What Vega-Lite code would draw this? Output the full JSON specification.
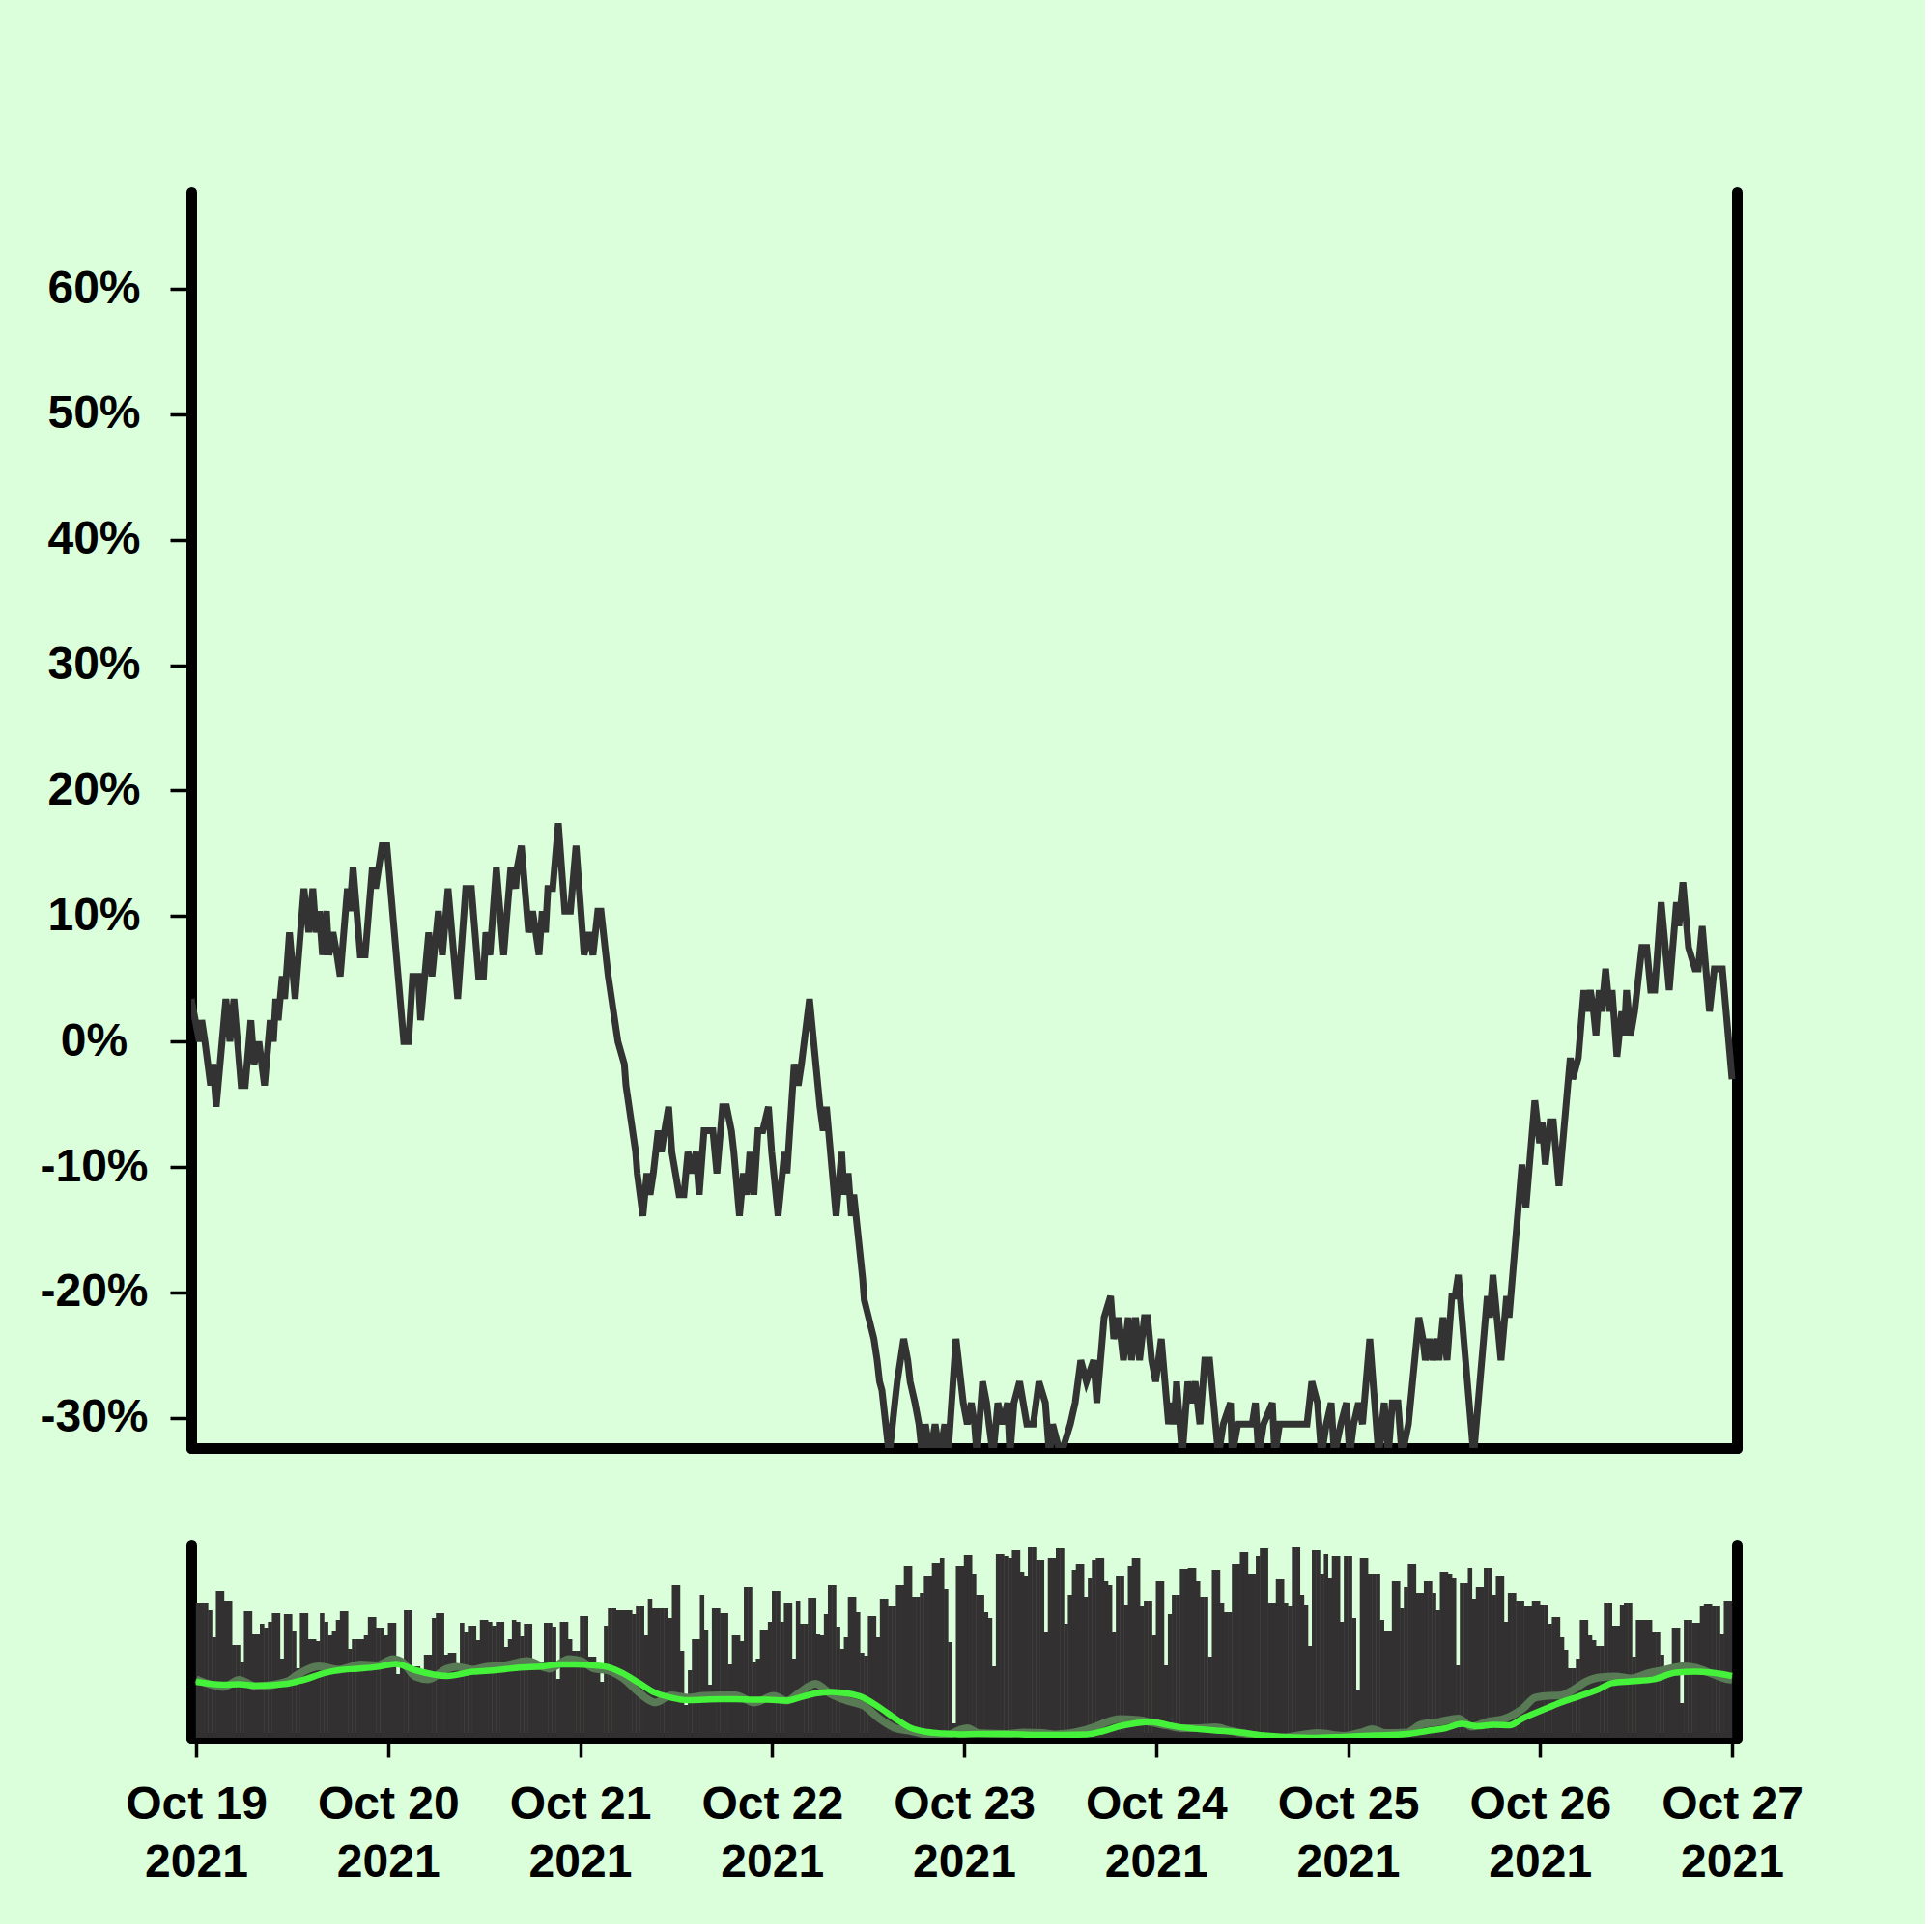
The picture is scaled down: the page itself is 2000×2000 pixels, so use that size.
{
"$schema":"https://vega.github.io/schema/vega-lite/v6.json",
"autosize":{"type":"pad"},
"padding":{"left":40,"top":199,"right":126,"bottom":40},
"background":"#dbffdb",
"spacing":100,
"bounds":"flush",
"config":{"view":{"stroke":null},"font":"Liberation Sans","axis":{"domainColor":"#000000","domainWidth":11,"domainCap":"round","tickColor":"#000000","tickWidth":3.5,"labelFont":"Liberation Sans","labelFontSize":48,"labelFontWeight":"bold","labelColor":"#000000","grid":false}},
"datasets":{
"price":[
{"t":"2021-10-19T00:00","v":3.4},{"t":"2021-10-19T01:00","v":0},{"t":"2021-10-19T01:18","v":1.7},{"t":"2021-10-19T01:42","v":0},{"t":"2021-10-19T02:24","v":-3.5},{"t":"2021-10-19T02:42","v":-1.8},{"t":"2021-10-19T03:06","v":-5.2},{"t":"2021-10-19T04:18","v":3.4},{"t":"2021-10-19T04:48","v":0},{"t":"2021-10-19T05:18","v":3.4},{"t":"2021-10-19T06:12","v":-3.5},{"t":"2021-10-19T06:42","v":-3.5},{"t":"2021-10-19T07:24","v":1.7},{"t":"2021-10-19T07:48","v":-1.8},{"t":"2021-10-19T08:24","v":0},{"t":"2021-10-19T09:06","v":-3.5},{"t":"2021-10-19T09:48","v":1.7},{"t":"2021-10-19T10:12","v":0},{"t":"2021-10-19T10:30","v":3.4},{"t":"2021-10-19T10:48","v":1.7},{"t":"2021-10-19T11:18","v":5.2},{"t":"2021-10-19T11:36","v":3.4},{"t":"2021-10-19T12:12","v":8.7},{"t":"2021-10-19T12:54","v":3.4},{"t":"2021-10-19T14:00","v":12.2},{"t":"2021-10-19T14:36","v":8.7},{"t":"2021-10-19T15:06","v":12.2},{"t":"2021-10-19T15:30","v":8.7},{"t":"2021-10-19T15:54","v":10.4},{"t":"2021-10-19T16:18","v":6.9},{"t":"2021-10-19T16:48","v":10.4},{"t":"2021-10-19T17:06","v":6.9},{"t":"2021-10-19T17:36","v":8.7},{"t":"2021-10-19T18:06","v":6.9},{"t":"2021-10-19T18:30","v":5.2},{"t":"2021-10-19T19:24","v":12.2},{"t":"2021-10-19T19:42","v":10.4},{"t":"2021-10-19T20:06","v":13.9},{"t":"2021-10-19T21:00","v":6.9},{"t":"2021-10-19T21:36","v":6.9},{"t":"2021-10-19T22:30","v":13.9},{"t":"2021-10-19T22:54","v":12.2},{"t":"2021-10-19T23:42","v":15.6},
{"t":"2021-10-20T00:18","v":15.6},{"t":"2021-10-20T02:24","v":0},{"t":"2021-10-20T03:00","v":0},{"t":"2021-10-20T03:30","v":5.2},{"t":"2021-10-20T04:12","v":5.2},{"t":"2021-10-20T04:30","v":1.7},{"t":"2021-10-20T05:30","v":8.7},{"t":"2021-10-20T05:54","v":5.2},{"t":"2021-10-20T06:42","v":10.4},{"t":"2021-10-20T07:12","v":6.9},{"t":"2021-10-20T07:54","v":12.2},{"t":"2021-10-20T09:06","v":3.4},{"t":"2021-10-20T10:06","v":12.2},{"t":"2021-10-20T10:48","v":12.2},{"t":"2021-10-20T11:42","v":5.2},{"t":"2021-10-20T12:18","v":5.2},{"t":"2021-10-20T12:36","v":8.7},{"t":"2021-10-20T13:06","v":6.9},{"t":"2021-10-20T13:54","v":13.9},{"t":"2021-10-20T14:48","v":6.9},{"t":"2021-10-20T15:42","v":13.9},{"t":"2021-10-20T16:18","v":12.2},{"t":"2021-10-20T16:30","v":13.9},{"t":"2021-10-20T17:00","v":15.6},{"t":"2021-10-20T17:54","v":8.7},{"t":"2021-10-20T18:24","v":10.4},{"t":"2021-10-20T18:48","v":8.7},{"t":"2021-10-20T19:12","v":6.9},{"t":"2021-10-20T19:36","v":10.4},{"t":"2021-10-20T20:00","v":8.7},{"t":"2021-10-20T20:18","v":12.2},{"t":"2021-10-20T20:54","v":12.2},{"t":"2021-10-20T21:36","v":17.4},{"t":"2021-10-20T22:24","v":10.4},{"t":"2021-10-20T23:06","v":10.4},{"t":"2021-10-20T23:48","v":15.6},
{"t":"2021-10-21T00:48","v":6.9},{"t":"2021-10-21T01:24","v":8.7},{"t":"2021-10-21T01:54","v":6.9},{"t":"2021-10-21T02:30","v":10.4},{"t":"2021-10-21T02:54","v":10.4},{"t":"2021-10-21T03:30","v":6.9},{"t":"2021-10-21T03:48","v":5.2},{"t":"2021-10-21T05:00","v":0},{"t":"2021-10-21T05:48","v":-1.8},{"t":"2021-10-21T06:00","v":-3.5},{"t":"2021-10-21T07:12","v":-8.8},{"t":"2021-10-21T07:24","v":-10.5},{"t":"2021-10-21T08:06","v":-13.9},{"t":"2021-10-21T08:36","v":-10.5},{"t":"2021-10-21T09:00","v":-12.2},{"t":"2021-10-21T09:24","v":-10.5},{"t":"2021-10-21T10:00","v":-7.1},{"t":"2021-10-21T10:24","v":-8.8},{"t":"2021-10-21T10:48","v":-7.1},{"t":"2021-10-21T11:18","v":-5.2},{"t":"2021-10-21T11:42","v":-8.8},{"t":"2021-10-21T12:36","v":-12.2},{"t":"2021-10-21T13:12","v":-12.2},{"t":"2021-10-21T13:42","v":-8.8},{"t":"2021-10-21T14:12","v":-10.5},{"t":"2021-10-21T14:42","v":-8.8},{"t":"2021-10-21T15:06","v":-12.2},{"t":"2021-10-21T15:42","v":-7.1},{"t":"2021-10-21T16:48","v":-7.1},{"t":"2021-10-21T17:18","v":-10.5},{"t":"2021-10-21T18:00","v":-5.2},{"t":"2021-10-21T18:30","v":-5.2},{"t":"2021-10-21T19:06","v":-7.1},{"t":"2021-10-21T19:24","v":-8.8},{"t":"2021-10-21T20:06","v":-13.9},{"t":"2021-10-21T20:36","v":-10.5},{"t":"2021-10-21T21:00","v":-12.2},{"t":"2021-10-21T21:24","v":-8.8},{"t":"2021-10-21T21:54","v":-12.2},{"t":"2021-10-21T22:24","v":-7.1},{"t":"2021-10-21T23:00","v":-7.1},{"t":"2021-10-21T23:42","v":-5.2},
{"t":"2021-10-22T00:06","v":-8.8},{"t":"2021-10-22T00:54","v":-13.9},{"t":"2021-10-22T01:42","v":-8.8},{"t":"2021-10-22T02:00","v":-10.5},{"t":"2021-10-22T02:54","v":-1.8},{"t":"2021-10-22T03:24","v":-3.5},{"t":"2021-10-22T03:48","v":-1.8},{"t":"2021-10-22T04:48","v":3.4},{"t":"2021-10-22T06:06","v":-5.2},{"t":"2021-10-22T06:30","v":-7.1},{"t":"2021-10-22T06:54","v":-5.2},{"t":"2021-10-22T08:06","v":-13.9},{"t":"2021-10-22T08:48","v":-8.8},{"t":"2021-10-22T09:06","v":-12.2},{"t":"2021-10-22T09:36","v":-10.5},{"t":"2021-10-22T10:00","v":-13.9},{"t":"2021-10-22T10:18","v":-12.2},{"t":"2021-10-22T11:24","v":-18.9},{"t":"2021-10-22T11:36","v":-20.6},{"t":"2021-10-22T12:48","v":-23.7},{"t":"2021-10-22T13:12","v":-25.4},{"t":"2021-10-22T13:30","v":-27.1},{"t":"2021-10-22T13:48","v":-27.8},{"t":"2021-10-22T14:42","v":-33},{"t":"2021-10-22T15:24","v":-28.8},{"t":"2021-10-22T15:42","v":-27.1},{"t":"2021-10-22T16:30","v":-23.7},{"t":"2021-10-22T17:00","v":-25.4},{"t":"2021-10-22T17:18","v":-27.1},{"t":"2021-10-22T17:54","v":-28.8},{"t":"2021-10-22T18:24","v":-30.5},{"t":"2021-10-22T18:48","v":-33},{"t":"2021-10-22T19:12","v":-30.5},{"t":"2021-10-22T19:48","v":-33},{"t":"2021-10-22T20:24","v":-30.5},{"t":"2021-10-22T21:00","v":-33},{"t":"2021-10-22T21:36","v":-30.5},{"t":"2021-10-22T22:00","v":-33},{"t":"2021-10-22T23:00","v":-23.7},{"t":"2021-10-22T23:54","v":-28.8},
{"t":"2021-10-23T00:24","v":-30.5},{"t":"2021-10-23T00:54","v":-28.8},{"t":"2021-10-23T01:18","v":-30.5},{"t":"2021-10-23T01:36","v":-33},{"t":"2021-10-23T02:18","v":-27.1},{"t":"2021-10-23T02:48","v":-28.8},{"t":"2021-10-23T03:06","v":-30.5},{"t":"2021-10-23T03:36","v":-33},{"t":"2021-10-23T04:12","v":-28.8},{"t":"2021-10-23T04:48","v":-30.5},{"t":"2021-10-23T05:24","v":-28.8},{"t":"2021-10-23T05:42","v":-33},{"t":"2021-10-23T06:12","v":-28.8},{"t":"2021-10-23T06:54","v":-27.1},{"t":"2021-10-23T07:48","v":-30.5},{"t":"2021-10-23T08:36","v":-30.5},{"t":"2021-10-23T09:18","v":-27.1},{"t":"2021-10-23T10:06","v":-28.8},{"t":"2021-10-23T10:36","v":-33},{"t":"2021-10-23T11:00","v":-30.5},{"t":"2021-10-23T12:00","v":-33},{"t":"2021-10-23T13:12","v":-30.5},{"t":"2021-10-23T13:48","v":-28.8},{"t":"2021-10-23T14:30","v":-25.4},{"t":"2021-10-23T15:12","v":-27.1},{"t":"2021-10-23T16:06","v":-25.4},{"t":"2021-10-23T16:30","v":-28.8},{"t":"2021-10-23T17:24","v":-22.0},{"t":"2021-10-23T18:12","v":-20.3},{"t":"2021-10-23T18:36","v":-23.7},{"t":"2021-10-23T19:12","v":-22.0},{"t":"2021-10-23T19:48","v":-25.4},{"t":"2021-10-23T20:24","v":-22.0},{"t":"2021-10-23T20:48","v":-25.4},{"t":"2021-10-23T21:18","v":-22.0},{"t":"2021-10-23T21:48","v":-25.4},{"t":"2021-10-23T22:24","v":-22.0},{"t":"2021-10-23T22:48","v":-22.0},{"t":"2021-10-23T23:18","v":-25.4},{"t":"2021-10-23T23:48","v":-27.1},
{"t":"2021-10-24T00:30","v":-23.7},{"t":"2021-10-24T01:24","v":-30.5},{"t":"2021-10-24T01:48","v":-28.8},{"t":"2021-10-24T02:06","v":-30.5},{"t":"2021-10-24T02:24","v":-27.1},{"t":"2021-10-24T03:06","v":-33},{"t":"2021-10-24T03:48","v":-27.1},{"t":"2021-10-24T04:12","v":-28.8},{"t":"2021-10-24T04:42","v":-27.1},{"t":"2021-10-24T05:18","v":-30.5},{"t":"2021-10-24T05:54","v":-25.4},{"t":"2021-10-24T06:30","v":-25.4},{"t":"2021-10-24T07:00","v":-28.8},{"t":"2021-10-24T07:36","v":-33},{"t":"2021-10-24T08:12","v":-30.5},{"t":"2021-10-24T09:06","v":-28.8},{"t":"2021-10-24T09:18","v":-33},{"t":"2021-10-24T10:00","v":-30.5},{"t":"2021-10-24T11:48","v":-30.5},{"t":"2021-10-24T12:12","v":-28.8},{"t":"2021-10-24T12:36","v":-33},{"t":"2021-10-24T13:12","v":-30.5},{"t":"2021-10-24T14:18","v":-28.8},{"t":"2021-10-24T14:36","v":-33},{"t":"2021-10-24T15:12","v":-30.5},{"t":"2021-10-24T18:36","v":-30.5},{"t":"2021-10-24T19:12","v":-27.1},{"t":"2021-10-24T19:54","v":-28.8},{"t":"2021-10-24T20:24","v":-33},{"t":"2021-10-24T21:00","v":-30.5},{"t":"2021-10-24T21:36","v":-28.8},{"t":"2021-10-24T22:00","v":-33},{"t":"2021-10-24T22:48","v":-30.5},{"t":"2021-10-24T23:30","v":-28.8},{"t":"2021-10-24T23:54","v":-33},
{"t":"2021-10-25T00:24","v":-30.5},{"t":"2021-10-25T01:00","v":-28.8},{"t":"2021-10-25T01:30","v":-30.5},{"t":"2021-10-25T02:24","v":-23.7},{"t":"2021-10-25T03:30","v":-33},{"t":"2021-10-25T04:12","v":-28.8},{"t":"2021-10-25T04:42","v":-33},{"t":"2021-10-25T05:12","v":-28.8},{"t":"2021-10-25T05:54","v":-28.8},{"t":"2021-10-25T06:24","v":-33},{"t":"2021-10-25T07:12","v":-30.5},{"t":"2021-10-25T08:30","v":-22.0},{"t":"2021-10-25T09:00","v":-23.7},{"t":"2021-10-25T09:18","v":-25.4},{"t":"2021-10-25T09:48","v":-23.7},{"t":"2021-10-25T10:12","v":-25.4},{"t":"2021-10-25T10:42","v":-23.7},{"t":"2021-10-25T11:00","v":-25.4},{"t":"2021-10-25T11:30","v":-22.0},{"t":"2021-10-25T12:00","v":-25.4},{"t":"2021-10-25T12:36","v":-20.3},{"t":"2021-10-25T13:00","v":-20.3},{"t":"2021-10-25T13:24","v":-18.6},{"t":"2021-10-25T15:18","v":-33},{"t":"2021-10-25T17:00","v":-20.3},{"t":"2021-10-25T17:18","v":-22.0},{"t":"2021-10-25T17:42","v":-18.6},{"t":"2021-10-25T18:42","v":-25.4},{"t":"2021-10-25T19:24","v":-20.3},{"t":"2021-10-25T19:42","v":-22.0},{"t":"2021-10-25T21:18","v":-9.8},{"t":"2021-10-25T21:48","v":-13.2},{"t":"2021-10-25T22:54","v":-4.7},{"t":"2021-10-25T23:30","v":-8.1},{"t":"2021-10-25T23:48","v":-6.4},
{"t":"2021-10-26T00:12","v":-9.8},{"t":"2021-10-26T00:48","v":-6.4},{"t":"2021-10-26T01:12","v":-6.4},{"t":"2021-10-26T01:54","v":-11.5},{"t":"2021-10-26T03:18","v":-1.3},{"t":"2021-10-26T03:36","v":-3.0},{"t":"2021-10-26T04:18","v":-1.3},{"t":"2021-10-26T05:00","v":4.1},{"t":"2021-10-26T05:24","v":2.4},{"t":"2021-10-26T05:48","v":4.1},{"t":"2021-10-26T06:12","v":2.4},{"t":"2021-10-26T06:30","v":0.5},{"t":"2021-10-26T06:54","v":4.1},{"t":"2021-10-26T07:12","v":2.4},{"t":"2021-10-26T07:42","v":5.8},{"t":"2021-10-26T08:12","v":2.4},{"t":"2021-10-26T08:30","v":4.1},{"t":"2021-10-26T09:06","v":-1.2},{"t":"2021-10-26T09:42","v":2.4},{"t":"2021-10-26T10:00","v":0.5},{"t":"2021-10-26T10:18","v":4.1},{"t":"2021-10-26T10:48","v":0.5},{"t":"2021-10-26T11:18","v":2.4},{"t":"2021-10-26T12:12","v":7.5},{"t":"2021-10-26T12:48","v":7.5},{"t":"2021-10-26T13:18","v":4.1},{"t":"2021-10-26T13:48","v":4.1},{"t":"2021-10-26T14:36","v":11.1},{"t":"2021-10-26T15:36","v":4.1},{"t":"2021-10-26T16:30","v":11.1},{"t":"2021-10-26T16:48","v":9.2},{"t":"2021-10-26T17:18","v":12.7},{"t":"2021-10-26T18:00","v":7.5},{"t":"2021-10-26T18:48","v":5.8},{"t":"2021-10-26T19:12","v":5.8},{"t":"2021-10-26T19:42","v":9.2},{"t":"2021-10-26T20:36","v":2.4},{"t":"2021-10-26T21:12","v":5.8},{"t":"2021-10-26T22:12","v":5.8},{"t":"2021-10-26T23:24","v":-3.0}
],
"vol":[
{"t":"2021-10-19T00:15","v":0.70},{"t":"2021-10-19T00:45","v":0.70},{"t":"2021-10-19T01:15","v":0.70},{"t":"2021-10-19T01:45","v":0.66},{"t":"2021-10-19T02:15","v":0.52},{"t":"2021-10-19T02:45","v":0.76},{"t":"2021-10-19T03:15","v":0.76},{"t":"2021-10-19T03:45","v":0.71},{"t":"2021-10-19T04:15","v":0.71},{"t":"2021-10-19T04:45","v":0.48},{"t":"2021-10-19T05:15","v":0.48},{"t":"2021-10-19T05:45","v":0.39},{"t":"2021-10-19T06:15","v":0.655},{"t":"2021-10-19T06:45","v":0.655},{"t":"2021-10-19T07:15","v":0.54},{"t":"2021-10-19T07:45","v":0.54},{"t":"2021-10-19T08:15","v":0.59},{"t":"2021-10-19T08:45","v":0.57},{"t":"2021-10-19T09:15","v":0.60},{"t":"2021-10-19T09:45","v":0.645},{"t":"2021-10-19T10:15","v":0.645},{"t":"2021-10-19T10:45","v":0.41},{"t":"2021-10-19T11:15","v":0.64},{"t":"2021-10-19T11:45","v":0.64},{"t":"2021-10-19T12:15","v":0.555},{"t":"2021-10-19T12:45","v":0.36},{"t":"2021-10-19T13:15","v":0.645},{"t":"2021-10-19T13:45","v":0.645},{"t":"2021-10-19T14:15","v":0.51},{"t":"2021-10-19T14:45","v":0.51},{"t":"2021-10-19T15:15","v":0.50},{"t":"2021-10-19T15:45","v":0.645},{"t":"2021-10-19T16:15","v":0.60},{"t":"2021-10-19T16:45","v":0.53},{"t":"2021-10-19T17:15","v":0.555},{"t":"2021-10-19T17:45","v":0.61},{"t":"2021-10-19T18:15","v":0.655},{"t":"2021-10-19T18:45","v":0.655},{"t":"2021-10-19T19:15","v":0.46},{"t":"2021-10-19T19:45","v":0.51},{"t":"2021-10-19T20:15","v":0.51},{"t":"2021-10-19T20:45","v":0.51},{"t":"2021-10-19T21:15","v":0.53},{"t":"2021-10-19T21:45","v":0.625},{"t":"2021-10-19T22:15","v":0.625},{"t":"2021-10-19T22:45","v":0.57},{"t":"2021-10-19T23:15","v":0.57},{"t":"2021-10-19T23:45","v":0.53},
{"t":"2021-10-20T00:15","v":0.595},{"t":"2021-10-20T00:45","v":0.595},{"t":"2021-10-20T01:15","v":0.33},{"t":"2021-10-20T01:45","v":0.41},{"t":"2021-10-20T02:15","v":0.66},{"t":"2021-10-20T02:45","v":0.66},{"t":"2021-10-20T03:15","v":0.37},{"t":"2021-10-20T03:45","v":0.37},{"t":"2021-10-20T04:15","v":0.33},{"t":"2021-10-20T04:45","v":0.43},{"t":"2021-10-20T05:15","v":0.43},{"t":"2021-10-20T05:45","v":0.62},{"t":"2021-10-20T06:15","v":0.645},{"t":"2021-10-20T06:45","v":0.645},{"t":"2021-10-20T07:15","v":0.43},{"t":"2021-10-20T07:45","v":0.44},{"t":"2021-10-20T08:15","v":0.44},{"t":"2021-10-20T08:45","v":0.38},{"t":"2021-10-20T09:15","v":0.595},{"t":"2021-10-20T09:45","v":0.55},{"t":"2021-10-20T10:15","v":0.58},{"t":"2021-10-20T10:45","v":0.58},{"t":"2021-10-20T11:15","v":0.505},{"t":"2021-10-20T11:45","v":0.61},{"t":"2021-10-20T12:15","v":0.61},{"t":"2021-10-20T12:45","v":0.60},{"t":"2021-10-20T13:15","v":0.58},{"t":"2021-10-20T13:45","v":0.60},{"t":"2021-10-20T14:15","v":0.60},{"t":"2021-10-20T14:45","v":0.47},{"t":"2021-10-20T15:15","v":0.51},{"t":"2021-10-20T15:45","v":0.61},{"t":"2021-10-20T16:15","v":0.60},{"t":"2021-10-20T16:45","v":0.525},{"t":"2021-10-20T17:15","v":0.59},{"t":"2021-10-20T17:45","v":0.59},{"t":"2021-10-20T18:15","v":0.395},{"t":"2021-10-20T18:45","v":0.395},{"t":"2021-10-20T19:15","v":0.395},{"t":"2021-10-20T19:45","v":0.595},{"t":"2021-10-20T20:15","v":0.595},{"t":"2021-10-20T20:45","v":0.575},{"t":"2021-10-20T21:15","v":0.305},{"t":"2021-10-20T21:45","v":0.60},{"t":"2021-10-20T22:15","v":0.60},{"t":"2021-10-20T22:45","v":0.51},{"t":"2021-10-20T23:15","v":0.45},{"t":"2021-10-20T23:45","v":0.45},
{"t":"2021-10-21T00:15","v":0.63},{"t":"2021-10-21T00:45","v":0.63},{"t":"2021-10-21T01:15","v":0.42},{"t":"2021-10-21T01:45","v":0.42},{"t":"2021-10-21T02:15","v":0.35},{"t":"2021-10-21T02:45","v":0.29},{"t":"2021-10-21T03:15","v":0.58},{"t":"2021-10-21T03:45","v":0.67},{"t":"2021-10-21T04:15","v":0.67},{"t":"2021-10-21T04:45","v":0.66},{"t":"2021-10-21T05:15","v":0.66},{"t":"2021-10-21T05:45","v":0.66},{"t":"2021-10-21T06:15","v":0.66},{"t":"2021-10-21T06:45","v":0.64},{"t":"2021-10-21T07:15","v":0.68},{"t":"2021-10-21T07:45","v":0.68},{"t":"2021-10-21T08:15","v":0.53},{"t":"2021-10-21T08:45","v":0.72},{"t":"2021-10-21T09:15","v":0.67},{"t":"2021-10-21T09:45","v":0.67},{"t":"2021-10-21T10:15","v":0.67},{"t":"2021-10-21T10:45","v":0.67},{"t":"2021-10-21T11:15","v":0.62},{"t":"2021-10-21T11:45","v":0.79},{"t":"2021-10-21T12:15","v":0.79},{"t":"2021-10-21T12:45","v":0.45},{"t":"2021-10-21T13:15","v":0.17},{"t":"2021-10-21T13:45","v":0.35},{"t":"2021-10-21T14:15","v":0.51},{"t":"2021-10-21T14:45","v":0.51},{"t":"2021-10-21T15:15","v":0.74},{"t":"2021-10-21T15:45","v":0.56},{"t":"2021-10-21T16:15","v":0.275},{"t":"2021-10-21T16:45","v":0.67},{"t":"2021-10-21T17:15","v":0.67},{"t":"2021-10-21T17:45","v":0.645},{"t":"2021-10-21T18:15","v":0.645},{"t":"2021-10-21T18:45","v":0.38},{"t":"2021-10-21T19:15","v":0.53},{"t":"2021-10-21T19:45","v":0.53},{"t":"2021-10-21T20:15","v":0.50},{"t":"2021-10-21T20:45","v":0.78},{"t":"2021-10-21T21:15","v":0.78},{"t":"2021-10-21T21:45","v":0.39},{"t":"2021-10-21T22:15","v":0.41},{"t":"2021-10-21T22:45","v":0.56},{"t":"2021-10-21T23:15","v":0.56},{"t":"2021-10-21T23:45","v":0.60},
{"t":"2021-10-22T00:15","v":0.76},{"t":"2021-10-22T00:45","v":0.76},{"t":"2021-10-22T01:15","v":0.60},{"t":"2021-10-22T01:45","v":0.70},{"t":"2021-10-22T02:15","v":0.70},{"t":"2021-10-22T02:45","v":0.41},{"t":"2021-10-22T03:15","v":0.71},{"t":"2021-10-22T03:45","v":0.59},{"t":"2021-10-22T04:15","v":0.59},{"t":"2021-10-22T04:45","v":0.725},{"t":"2021-10-22T05:15","v":0.725},{"t":"2021-10-22T05:45","v":0.54},{"t":"2021-10-22T06:15","v":0.53},{"t":"2021-10-22T06:45","v":0.64},{"t":"2021-10-22T07:15","v":0.79},{"t":"2021-10-22T07:45","v":0.79},{"t":"2021-10-22T08:15","v":0.575},{"t":"2021-10-22T08:45","v":0.46},{"t":"2021-10-22T09:15","v":0.52},{"t":"2021-10-22T09:45","v":0.73},{"t":"2021-10-22T10:15","v":0.73},{"t":"2021-10-22T10:45","v":0.65},{"t":"2021-10-22T11:15","v":0.44},{"t":"2021-10-22T11:45","v":0.425},{"t":"2021-10-22T12:15","v":0.63},{"t":"2021-10-22T12:45","v":0.63},{"t":"2021-10-22T13:15","v":0.52},{"t":"2021-10-22T13:45","v":0.72},{"t":"2021-10-22T14:15","v":0.72},{"t":"2021-10-22T14:45","v":0.68},{"t":"2021-10-22T15:15","v":0.68},{"t":"2021-10-22T15:45","v":0.79},{"t":"2021-10-22T16:15","v":0.79},{"t":"2021-10-22T16:45","v":0.89},{"t":"2021-10-22T17:15","v":0.89},{"t":"2021-10-22T17:45","v":0.73},{"t":"2021-10-22T18:15","v":0.73},{"t":"2021-10-22T18:45","v":0.75},{"t":"2021-10-22T19:15","v":0.84},{"t":"2021-10-22T19:45","v":0.84},{"t":"2021-10-22T20:15","v":0.905},{"t":"2021-10-22T20:45","v":0.905},{"t":"2021-10-22T21:15","v":0.93},{"t":"2021-10-22T21:45","v":0.77},{"t":"2021-10-22T22:15","v":0.495},{"t":"2021-10-22T22:45","v":0.075},{"t":"2021-10-22T23:15","v":0.89},{"t":"2021-10-22T23:45","v":0.89},
{"t":"2021-10-23T00:15","v":0.945},{"t":"2021-10-23T00:45","v":0.945},{"t":"2021-10-23T01:15","v":0.85},{"t":"2021-10-23T01:45","v":0.74},{"t":"2021-10-23T02:15","v":0.74},{"t":"2021-10-23T02:45","v":0.65},{"t":"2021-10-23T03:15","v":0.62},{"t":"2021-10-23T03:45","v":0.37},{"t":"2021-10-23T04:15","v":0.95},{"t":"2021-10-23T04:45","v":0.95},{"t":"2021-10-23T05:15","v":0.94},{"t":"2021-10-23T05:45","v":0.93},{"t":"2021-10-23T06:15","v":0.97},{"t":"2021-10-23T06:45","v":0.97},{"t":"2021-10-23T07:15","v":0.86},{"t":"2021-10-23T07:45","v":0.84},{"t":"2021-10-23T08:15","v":0.99},{"t":"2021-10-23T08:45","v":0.99},{"t":"2021-10-23T09:15","v":0.92},{"t":"2021-10-23T09:45","v":0.92},{"t":"2021-10-23T10:15","v":0.55},{"t":"2021-10-23T10:45","v":0.93},{"t":"2021-10-23T11:15","v":0.93},{"t":"2021-10-23T11:45","v":0.98},{"t":"2021-10-23T12:15","v":0.98},{"t":"2021-10-23T12:45","v":0.59},{"t":"2021-10-23T13:15","v":0.74},{"t":"2021-10-23T13:45","v":0.87},{"t":"2021-10-23T14:15","v":0.90},{"t":"2021-10-23T14:45","v":0.90},{"t":"2021-10-23T15:15","v":0.73},{"t":"2021-10-23T15:45","v":0.825},{"t":"2021-10-23T16:15","v":0.92},{"t":"2021-10-23T16:45","v":0.93},{"t":"2021-10-23T17:15","v":0.93},{"t":"2021-10-23T17:45","v":0.81},{"t":"2021-10-23T18:15","v":0.79},{"t":"2021-10-23T18:45","v":0.55},{"t":"2021-10-23T19:15","v":0.84},{"t":"2021-10-23T19:45","v":0.84},{"t":"2021-10-23T20:15","v":0.69},{"t":"2021-10-23T20:45","v":0.89},{"t":"2021-10-23T21:15","v":0.93},{"t":"2021-10-23T21:45","v":0.93},{"t":"2021-10-23T22:15","v":0.68},{"t":"2021-10-23T22:45","v":0.71},{"t":"2021-10-23T23:15","v":0.71},{"t":"2021-10-23T23:45","v":0.53},
{"t":"2021-10-24T00:15","v":0.81},{"t":"2021-10-24T00:45","v":0.81},{"t":"2021-10-24T01:15","v":0.375},{"t":"2021-10-24T01:45","v":0.64},{"t":"2021-10-24T02:15","v":0.74},{"t":"2021-10-24T02:45","v":0.74},{"t":"2021-10-24T03:15","v":0.875},{"t":"2021-10-24T03:45","v":0.875},{"t":"2021-10-24T04:15","v":0.88},{"t":"2021-10-24T04:45","v":0.88},{"t":"2021-10-24T05:15","v":0.81},{"t":"2021-10-24T05:45","v":0.73},{"t":"2021-10-24T06:15","v":0.73},{"t":"2021-10-24T06:45","v":0.42},{"t":"2021-10-24T07:15","v":0.87},{"t":"2021-10-24T07:45","v":0.87},{"t":"2021-10-24T08:15","v":0.70},{"t":"2021-10-24T08:45","v":0.65},{"t":"2021-10-24T09:15","v":0.65},{"t":"2021-10-24T09:45","v":0.90},{"t":"2021-10-24T10:15","v":0.90},{"t":"2021-10-24T10:45","v":0.96},{"t":"2021-10-24T11:15","v":0.96},{"t":"2021-10-24T11:45","v":0.85},{"t":"2021-10-24T12:15","v":0.85},{"t":"2021-10-24T12:45","v":0.94},{"t":"2021-10-24T13:15","v":0.98},{"t":"2021-10-24T13:45","v":0.98},{"t":"2021-10-24T14:15","v":0.70},{"t":"2021-10-24T14:45","v":0.70},{"t":"2021-10-24T15:15","v":0.82},{"t":"2021-10-24T15:45","v":0.82},{"t":"2021-10-24T16:15","v":0.70},{"t":"2021-10-24T16:45","v":0.68},{"t":"2021-10-24T17:15","v":0.99},{"t":"2021-10-24T17:45","v":0.99},{"t":"2021-10-24T18:15","v":0.74},{"t":"2021-10-24T18:45","v":0.69},{"t":"2021-10-24T19:15","v":0.475},{"t":"2021-10-24T19:45","v":0.97},{"t":"2021-10-24T20:15","v":0.97},{"t":"2021-10-24T20:45","v":0.85},{"t":"2021-10-24T21:15","v":0.95},{"t":"2021-10-24T21:45","v":0.825},{"t":"2021-10-24T22:15","v":0.94},{"t":"2021-10-24T22:45","v":0.94},{"t":"2021-10-24T23:15","v":0.60},{"t":"2021-10-24T23:45","v":0.94},
{"t":"2021-10-25T00:15","v":0.94},{"t":"2021-10-25T00:45","v":0.62},{"t":"2021-10-25T01:15","v":0.25},{"t":"2021-10-25T01:45","v":0.93},{"t":"2021-10-25T02:15","v":0.93},{"t":"2021-10-25T02:45","v":0.85},{"t":"2021-10-25T03:15","v":0.85},{"t":"2021-10-25T03:45","v":0.85},{"t":"2021-10-25T04:15","v":0.61},{"t":"2021-10-25T04:45","v":0.555},{"t":"2021-10-25T05:15","v":0.555},{"t":"2021-10-25T05:45","v":0.81},{"t":"2021-10-25T06:15","v":0.81},{"t":"2021-10-25T06:45","v":0.67},{"t":"2021-10-25T07:15","v":0.78},{"t":"2021-10-25T07:45","v":0.90},{"t":"2021-10-25T08:15","v":0.90},{"t":"2021-10-25T08:45","v":0.75},{"t":"2021-10-25T09:15","v":0.75},{"t":"2021-10-25T09:45","v":0.81},{"t":"2021-10-25T10:15","v":0.81},{"t":"2021-10-25T10:45","v":0.75},{"t":"2021-10-25T11:15","v":0.66},{"t":"2021-10-25T11:45","v":0.86},{"t":"2021-10-25T12:15","v":0.86},{"t":"2021-10-25T12:45","v":0.85},{"t":"2021-10-25T13:15","v":0.825},{"t":"2021-10-25T13:45","v":0.375},{"t":"2021-10-25T14:15","v":0.80},{"t":"2021-10-25T14:45","v":0.80},{"t":"2021-10-25T15:15","v":0.88},{"t":"2021-10-25T15:45","v":0.72},{"t":"2021-10-25T16:15","v":0.78},{"t":"2021-10-25T16:45","v":0.78},{"t":"2021-10-25T17:15","v":0.88},{"t":"2021-10-25T17:45","v":0.88},{"t":"2021-10-25T18:15","v":0.74},{"t":"2021-10-25T18:45","v":0.84},{"t":"2021-10-25T19:15","v":0.84},{"t":"2021-10-25T19:45","v":0.60},{"t":"2021-10-25T20:15","v":0.75},{"t":"2021-10-25T20:45","v":0.75},{"t":"2021-10-25T21:15","v":0.71},{"t":"2021-10-25T21:45","v":0.71},{"t":"2021-10-25T22:15","v":0.68},{"t":"2021-10-25T22:45","v":0.68},{"t":"2021-10-25T23:15","v":0.71},{"t":"2021-10-25T23:45","v":0.71},
{"t":"2021-10-26T00:15","v":0.69},{"t":"2021-10-26T00:45","v":0.69},{"t":"2021-10-26T01:15","v":0.59},{"t":"2021-10-26T01:45","v":0.625},{"t":"2021-10-26T02:15","v":0.625},{"t":"2021-10-26T02:45","v":0.52},{"t":"2021-10-26T03:15","v":0.455},{"t":"2021-10-26T03:45","v":0.36},{"t":"2021-10-26T04:15","v":0.36},{"t":"2021-10-26T04:45","v":0.41},{"t":"2021-10-26T05:15","v":0.61},{"t":"2021-10-26T05:45","v":0.61},{"t":"2021-10-26T06:15","v":0.53},{"t":"2021-10-26T06:45","v":0.505},{"t":"2021-10-26T07:15","v":0.475},{"t":"2021-10-26T07:45","v":0.475},{"t":"2021-10-26T08:15","v":0.70},{"t":"2021-10-26T08:45","v":0.70},{"t":"2021-10-26T09:15","v":0.58},{"t":"2021-10-26T09:45","v":0.58},{"t":"2021-10-26T10:15","v":0.69},{"t":"2021-10-26T10:45","v":0.70},{"t":"2021-10-26T11:15","v":0.70},{"t":"2021-10-26T11:45","v":0.42},{"t":"2021-10-26T12:15","v":0.61},{"t":"2021-10-26T12:45","v":0.61},{"t":"2021-10-26T13:15","v":0.61},{"t":"2021-10-26T13:45","v":0.61},{"t":"2021-10-26T14:15","v":0.55},{"t":"2021-10-26T14:45","v":0.55},{"t":"2021-10-26T15:15","v":0.43},{"t":"2021-10-26T15:45","v":0.37},{"t":"2021-10-26T16:15","v":0.37},{"t":"2021-10-26T16:45","v":0.57},{"t":"2021-10-26T17:15","v":0.57},{"t":"2021-10-26T17:45","v":0.18},{"t":"2021-10-26T18:15","v":0.61},{"t":"2021-10-26T18:45","v":0.61},{"t":"2021-10-26T19:15","v":0.595},{"t":"2021-10-26T19:45","v":0.595},{"t":"2021-10-26T20:15","v":0.68},{"t":"2021-10-26T20:45","v":0.695},{"t":"2021-10-26T21:15","v":0.695},{"t":"2021-10-26T21:45","v":0.68},{"t":"2021-10-26T22:15","v":0.68},{"t":"2021-10-26T22:45","v":0.54},{"t":"2021-10-26T23:15","v":0.71},{"t":"2021-10-26T23:45","v":0.71}
],
"fast":[
{"t":"2021-10-19T00:00","v":0.303},{"t":"2021-10-19T03:24","v":0.263},{"t":"2021-10-19T05:24","v":0.30},{"t":"2021-10-19T07:24","v":0.267},{"t":"2021-10-19T11:24","v":0.292},{"t":"2021-10-19T12:36","v":0.325},{"t":"2021-10-19T15:24","v":0.37},{"t":"2021-10-19T17:48","v":0.353},{"t":"2021-10-19T20:36","v":0.38},{"t":"2021-10-19T22:36","v":0.375},{"t":"2021-10-20T00:36","v":0.408},{"t":"2021-10-20T01:48","v":0.392},{"t":"2021-10-20T03:24","v":0.317},{"t":"2021-10-20T05:00","v":0.303},{"t":"2021-10-20T07:24","v":0.358},{"t":"2021-10-20T08:36","v":0.367},{"t":"2021-10-20T10:36","v":0.353},{"t":"2021-10-20T12:12","v":0.367},{"t":"2021-10-20T14:36","v":0.375},{"t":"2021-10-20T17:24","v":0.397},{"t":"2021-10-20T20:12","v":0.358},{"t":"2021-10-20T22:36","v":0.408},{"t":"2021-10-21T00:00","v":0.40},{"t":"2021-10-21T01:48","v":0.358},{"t":"2021-10-21T03:24","v":0.35},{"t":"2021-10-21T05:24","v":0.308},{"t":"2021-10-21T07:24","v":0.233},{"t":"2021-10-21T09:24","v":0.183},{"t":"2021-10-21T11:24","v":0.22},{"t":"2021-10-21T13:24","v":0.208},{"t":"2021-10-21T15:24","v":0.217},{"t":"2021-10-21T17:24","v":0.22},{"t":"2021-10-21T19:24","v":0.22},{"t":"2021-10-21T21:48","v":0.183},{"t":"2021-10-22T00:12","v":0.217},{"t":"2021-10-22T01:48","v":0.192},{"t":"2021-10-22T03:24","v":0.233},{"t":"2021-10-22T05:24","v":0.28},{"t":"2021-10-22T07:24","v":0.225},{"t":"2021-10-22T09:24","v":0.192},{"t":"2021-10-22T11:24","v":0.167},{"t":"2021-10-22T13:24","v":0.10},{"t":"2021-10-22T15:24","v":0.05},{"t":"2021-10-22T17:24","v":0.035},{"t":"2021-10-22T19:24","v":0.015},{"t":"2021-10-22T21:24","v":0.005},{"t":"2021-10-22T23:24","v":0.04},{"t":"2021-10-23T00:24","v":0.05},{"t":"2021-10-23T01:48","v":0.025},{"t":"2021-10-23T05:24","v":0.02},{"t":"2021-10-23T07:24","v":0.028},{"t":"2021-10-23T09:48","v":0.025},{"t":"2021-10-23T11:24","v":0.018},{"t":"2021-10-23T14:36","v":0.035},{"t":"2021-10-23T16:12","v":0.055},{"t":"2021-10-23T18:12","v":0.087},{"t":"2021-10-23T19:24","v":0.097},{"t":"2021-10-23T21:48","v":0.092},{"t":"2021-10-23T23:24","v":0.08},{"t":"2021-10-24T01:24","v":0.063},{"t":"2021-10-24T03:24","v":0.05},{"t":"2021-10-24T05:24","v":0.05},{"t":"2021-10-24T07:24","v":0.055},{"t":"2021-10-24T09:24","v":0.035},{"t":"2021-10-24T11:24","v":0.02},{"t":"2021-10-24T15:24","v":0.0},{"t":"2021-10-24T20:12","v":0.025},{"t":"2021-10-24T23:24","v":0.01},{"t":"2021-10-25T01:48","v":0.03},{"t":"2021-10-25T03:00","v":0.045},{"t":"2021-10-25T04:36","v":0.025},{"t":"2021-10-25T07:24","v":0.028},{"t":"2021-10-25T09:00","v":0.067},{"t":"2021-10-25T11:24","v":0.083},{"t":"2021-10-25T13:48","v":0.10},{"t":"2021-10-25T15:24","v":0.058},{"t":"2021-10-25T17:24","v":0.083},{"t":"2021-10-25T19:24","v":0.097},{"t":"2021-10-25T21:48","v":0.15},{"t":"2021-10-25T23:24","v":0.208},{"t":"2021-10-26T01:00","v":0.217},{"t":"2021-10-26T02:36","v":0.22},{"t":"2021-10-26T04:12","v":0.25},{"t":"2021-10-26T05:48","v":0.292},{"t":"2021-10-26T07:24","v":0.313},{"t":"2021-10-26T09:24","v":0.317},{"t":"2021-10-26T11:24","v":0.308},{"t":"2021-10-26T13:24","v":0.333},{"t":"2021-10-26T15:24","v":0.35},{"t":"2021-10-26T17:48","v":0.37},{"t":"2021-10-26T19:24","v":0.363},{"t":"2021-10-26T21:24","v":0.333},{"t":"2021-10-26T23:24","v":0.303},{"t":"2021-10-27T00:00","v":0.30}
],
"slow":[
{"t":"2021-10-19T00:00","v":0.29},{"t":"2021-10-19T03:24","v":0.275},{"t":"2021-10-19T05:24","v":0.278},{"t":"2021-10-19T07:24","v":0.27},{"t":"2021-10-19T11:24","v":0.28},{"t":"2021-10-19T13:24","v":0.30},{"t":"2021-10-19T16:12","v":0.337},{"t":"2021-10-19T17:48","v":0.35},{"t":"2021-10-19T20:12","v":0.358},{"t":"2021-10-19T22:36","v":0.367},{"t":"2021-10-20T01:00","v":0.383},{"t":"2021-10-20T03:24","v":0.35},{"t":"2021-10-20T07:24","v":0.32},{"t":"2021-10-20T10:36","v":0.342},{"t":"2021-10-20T13:24","v":0.35},{"t":"2021-10-20T16:12","v":0.363},{"t":"2021-10-20T19:24","v":0.37},{"t":"2021-10-20T21:24","v":0.38},{"t":"2021-10-20T23:24","v":0.38},{"t":"2021-10-21T01:48","v":0.375},{"t":"2021-10-21T03:24","v":0.367},{"t":"2021-10-21T05:24","v":0.333},{"t":"2021-10-21T07:24","v":0.283},{"t":"2021-10-21T09:24","v":0.233},{"t":"2021-10-21T11:24","v":0.208},{"t":"2021-10-21T13:24","v":0.195},{"t":"2021-10-21T15:24","v":0.197},{"t":"2021-10-21T17:24","v":0.20},{"t":"2021-10-21T19:24","v":0.20},{"t":"2021-10-21T21:48","v":0.197},{"t":"2021-10-21T23:24","v":0.197},{"t":"2021-10-22T01:48","v":0.192},{"t":"2021-10-22T03:24","v":0.208},{"t":"2021-10-22T05:24","v":0.23},{"t":"2021-10-22T07:24","v":0.238},{"t":"2021-10-22T09:24","v":0.23},{"t":"2021-10-22T11:24","v":0.208},{"t":"2021-10-22T13:24","v":0.158},{"t":"2021-10-22T15:24","v":0.10},{"t":"2021-10-22T17:24","v":0.05},{"t":"2021-10-22T19:24","v":0.03},{"t":"2021-10-22T21:24","v":0.022},{"t":"2021-10-22T23:24","v":0.018},{"t":"2021-10-23T01:48","v":0.02},{"t":"2021-10-23T05:24","v":0.02},{"t":"2021-10-23T09:00","v":0.015},{"t":"2021-10-23T15:24","v":0.018},{"t":"2021-10-23T17:24","v":0.035},{"t":"2021-10-23T19:24","v":0.06},{"t":"2021-10-23T21:24","v":0.075},{"t":"2021-10-23T23:24","v":0.083},{"t":"2021-10-24T01:24","v":0.067},{"t":"2021-10-24T03:24","v":0.053},{"t":"2021-10-24T05:24","v":0.045},{"t":"2021-10-24T07:24","v":0.038},{"t":"2021-10-24T10:36","v":0.028},{"t":"2021-10-24T13:24","v":0.012},{"t":"2021-10-24T19:24","v":0.0},{"t":"2021-10-24T23:24","v":0.005},{"t":"2021-10-25T03:24","v":0.012},{"t":"2021-10-25T07:24","v":0.02},{"t":"2021-10-25T09:48","v":0.035},{"t":"2021-10-25T12:12","v":0.05},{"t":"2021-10-25T14:12","v":0.072},{"t":"2021-10-25T16:12","v":0.06},{"t":"2021-10-25T18:12","v":0.068},{"t":"2021-10-25T20:12","v":0.065},{"t":"2021-10-25T21:48","v":0.10},{"t":"2021-10-26T00:12","v":0.142},{"t":"2021-10-26T02:36","v":0.183},{"t":"2021-10-26T05:00","v":0.217},{"t":"2021-10-26T07:24","v":0.253},{"t":"2021-10-26T09:00","v":0.283},{"t":"2021-10-26T11:24","v":0.292},{"t":"2021-10-26T14:12","v":0.303},{"t":"2021-10-26T17:00","v":0.337},{"t":"2021-10-26T19:24","v":0.342},{"t":"2021-10-26T21:24","v":0.337},{"t":"2021-10-26T23:24","v":0.325},{"t":"2021-10-27T00:00","v":0.32}
]
},
"vconcat":[
{
"width":1600,"height":1300,
"data":{"name":"price"},
"layer":[
{"mark":{"type":"line","color":"#333333","strokeWidth":7,"clip":true},
"encoding":{
"x":{"field":"t","type":"temporal","scale":{"domain":[{"year":2021,"month":"oct","date":19},{"year":2021,"month":"oct","date":27}]},"axis":{"title":null,"labels":false,"ticks":false,"domain":true,"orient":"bottom"}},
"y":{"field":"v","type":"quantitative","scale":{"domain":[-32.4,67.7],"nice":false,"zero":false},"axis":{"title":null,"orient":"left","values":[-30,-20,-10,0,10,20,30,40,50,60],"labelExpr":"datum.value + '%'","tickSize":22,"labelPadding":79,"labelAlign":"center"}}
}},
{"mark":{"type":"line","opacity":0},
"encoding":{
"x":{"field":"t","type":"temporal"},
"y":{"field":"v","type":"quantitative","axis":{"title":null,"orient":"right","labels":false,"ticks":false}}
}}
],
"resolve":{"axis":{"y":"independent"}}
},
{
"width":1600,"height":200,
"layer":[
{"data":{"name":"vol"},"mark":{"type":"bar","color":"#323031","width":4.6,"clip":true},
"encoding":{
"x":{"field":"t","type":"temporal","scale":{"domain":[{"year":2021,"month":"oct","date":19},{"year":2021,"month":"oct","date":27}]},"axis":{"title":null,"orient":"bottom","values":[{"year":2021,"month":"oct","date":19},{"year":2021,"month":"oct","date":20},{"year":2021,"month":"oct","date":21},{"year":2021,"month":"oct","date":22},{"year":2021,"month":"oct","date":23},{"year":2021,"month":"oct","date":24},{"year":2021,"month":"oct","date":25},{"year":2021,"month":"oct","date":26},{"year":2021,"month":"oct","date":27}],"labelExpr":"[timeFormat(datum.value, '%b %d'), timeFormat(datum.value, '%Y')]","tickSize":20,"labelPadding":25,"labelLineHeight":60,"labelBaseline":"top","labelAlign":"center","labelOverlap":false,"labelFlush":false}},
"y":{"field":"v","type":"quantitative","scale":{"domain":[0,1],"nice":false},"axis":{"title":null,"orient":"left","labels":false,"ticks":false}}
}},
{"data":{"name":"fast"},"mark":{"type":"line","color":"#587a54","strokeWidth":8,"clip":true,"interpolate":"monotone"},
"encoding":{
"x":{"field":"t","type":"temporal"},
"y":{"field":"v","type":"quantitative","axis":{"title":null,"orient":"right","labels":false,"ticks":false}}
}},
{"data":{"name":"slow"},"mark":{"type":"line","color":"#45f23a","strokeWidth":6.5,"clip":true,"interpolate":"monotone"},
"encoding":{
"x":{"field":"t","type":"temporal"},
"y":{"field":"v","type":"quantitative","axis":null}
}}
],
"resolve":{"axis":{"y":"independent"}}
}
]
}
